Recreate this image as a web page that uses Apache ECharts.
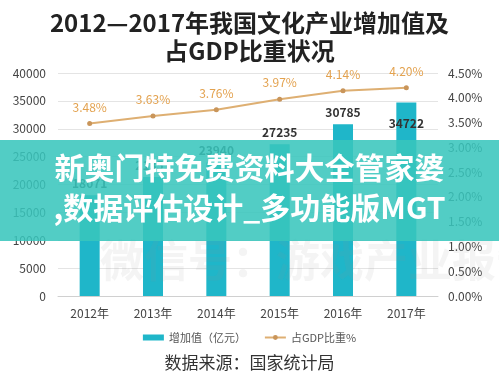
<!DOCTYPE html>
<html><head><meta charset="utf-8">
<script src="https://cdn.jsdelivr.net/npm/echarts@6/dist/echarts.min.js"></script>
<style>html,body{margin:0;padding:0;background:#fff}#c{width:499px;height:382px}</style>
</head><body><div id="c"></div>
<script>
const categories = ['2012年','2013年','2014年','2015年','2016年','2017年'];
const addedValue = [18071, 21351, 23940, 27235, 30785, 34722];
const gdpShare = [3.48, 3.63, 3.76, 3.97, 4.14, 4.20];
const titleLines = ['2012—2017年我国文化产业增加值及','占GDP比重状况'];
const bannerLines = ['新奥门特免费资料大全管家婆', ',数据评估设计_多功能版MGT'];
const sourceText = '数据来源：国家统计局';
const F = '"Noto Sans CJK SC", "Noto Sans", sans-serif';

const chart = echarts.init(document.getElementById('c'));
chart.setOption({
  animation: false,
  textStyle: { fontFamily: F },
  title: {
    text: titleLines.join('\n'), left: 'center', top: 4,
    textStyle: { fontSize: 24, fontWeight: 'bold', color: '#222', lineHeight: 28, fontFamily: F }
  },
  grid: { left: 58, right: 61, top: 73, bottom: 86 },
  legend: {
    bottom: 34, left: 'center', itemGap: 18, itemWidth: 21, itemHeight: 6,
    textStyle: { fontSize: 11, color: '#555', fontFamily: F },
    data: [
      { name: '增加值（亿元）', icon: 'rect' },
      { name: '占GDP比重%' }
    ]
  },
  xAxis: {
    type: 'category', data: categories,
    axisTick: { show: false },
    axisLine: { lineStyle: { color: '#d0d0d0' } },
    axisLabel: { color: '#444', fontSize: 12, margin: 11 }
  },
  yAxis: [
    { type: 'value', min: 0, max: 40000, interval: 5000,
      axisLine: { show: false }, axisTick: { show: false },
      axisLabel: { color: '#444', fontSize: 12, margin: 12, formatter: v => String(v) },
      splitLine: { lineStyle: { color: '#e4e4e4' } } },
    { type: 'value', min: 0, max: 4.5, interval: 0.5,
      axisLine: { show: false }, axisTick: { show: false },
      axisLabel: { color: '#444', fontSize: 12, margin: 10, formatter: v => v.toFixed(2) + '%' },
      splitLine: { show: false } }
  ],
  series: [
    { name: '增加值（亿元）', type: 'bar', barWidth: 20,
      itemStyle: { color: '#1fb6c9' },
      data: addedValue.map((v, i) => ({
        value: v,
        label: i === 5 ? { position: 'insideTop', distance: 15 } : undefined
      })),
      label: { show: true, position: 'top', distance: 6, color: '#333', fontSize: 12, fontWeight: 'bold' }
    },
    { name: '占GDP比重%', type: 'line', yAxisIndex: 1,
      symbol: 'circle', symbolSize: 5,
      lineStyle: { color: '#deaf72', width: 2 },
      itemStyle: { color: '#c9955a' },
      data: gdpShare,
      label: { show: true, position: 'top', distance: 8, color: '#e3a24f', fontSize: 12,
        formatter: p => p.value.toFixed(2) + '%' }
    }
  ],
  graphic: [
    { type: 'text', left: 'center', top: 354,
      style: { text: sourceText, fontSize: 17, fill: '#333', fontFamily: F } },
    { type: 'text', left: 100, top: 238, z: 50,
      style: { text: '微信号：游戏产业报告', fontSize: 44, fontWeight: 'bold', fill: 'rgba(150,150,150,0.10)', fontFamily: F } },
    { type: 'rect', shape: { x: 0, y: 140, width: 499, height: 101 }, z: 100,
      style: { fill: 'rgba(56,198,188,0.87)' } },
    { type: 'text', left: 'center', top: 153, z: 101,
      style: { text: bannerLines[0], fontSize: 30, fontWeight: 'bold', fill: '#fff', fontFamily: F,
        shadowColor: 'rgba(0,0,0,0.25)', shadowBlur: 2, shadowOffsetY: 1 } },
    { type: 'text', left: 'center', top: 193, z: 101,
      style: { text: bannerLines[1], fontSize: 30, fontWeight: 'bold', fill: '#fff', fontFamily: F,
        shadowColor: 'rgba(0,0,0,0.25)', shadowBlur: 2, shadowOffsetY: 1 } }
  ]
});
</script></body></html>
